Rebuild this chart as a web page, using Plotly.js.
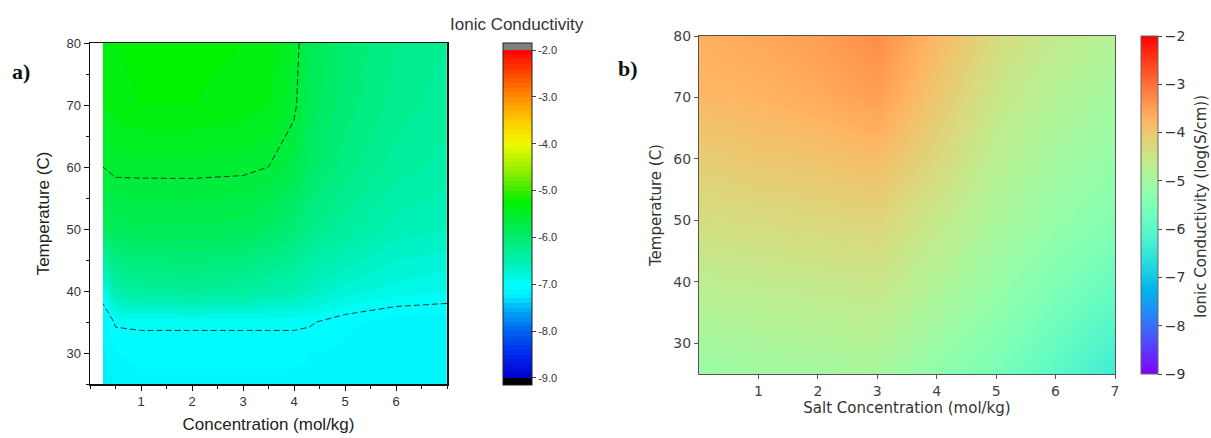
<!DOCTYPE html>
<html><head><meta charset="utf-8">
<script src="https://cdn.plot.ly/plotly-3.0.1.min.js"></script>
<style>html,body{margin:0;padding:0;background:#fff}</style>
</head><body><div id="chart" style="width:1211px;height:438px"></div>
<script>
// ---------- Panel a: measured ionic conductivity (log S/cm) ----------
const concA = [0.25, 0.5, 1, 2, 3, 3.5, 4, 4.3, 5, 6, 7];
const tempA = [25, 30, 35, 40, 50, 60, 70, 80];
const condA = [
  [-7.30, -7.15, -7.12, -7.12, -7.12, -7.12, -7.12, -7.12, -7.15, -7.18, -7.18], // 25
  [-7.22, -7.10, -7.08, -7.08, -7.08, -7.08, -7.08, -7.10, -7.12, -7.15, -7.15], // 30
  [-7.15, -6.98, -6.97, -6.97, -6.97, -6.97, -6.97, -6.98, -7.08, -7.15, -7.15], // 35
  [-6.90, -6.45, -6.35, -6.30, -6.35, -6.45, -6.50, -6.60, -6.75, -6.85, -6.90], // 40
  [-5.90, -5.85, -5.83, -5.82, -5.85, -5.95, -6.05, -6.20, -6.35, -6.55, -6.60], // 50
  [-5.60, -5.55, -5.55, -5.55, -5.56, -5.60, -5.75, -5.95, -6.15, -6.35, -6.45], // 60
  [-5.40, -5.35, -5.30, -5.30, -5.35, -5.40, -5.55, -5.85, -6.05, -6.25, -6.35], // 70
  [-5.35, -5.30, -5.25, -5.25, -5.30, -5.35, -5.50, -5.80, -6.00, -6.20, -6.30]  // 80
];
const lineLevelsA = [-7.0, -5.6];
const xTicksA = [1, 2, 3, 4, 5, 6];
const yTicksA = [30, 40, 50, 60, 70, 80];
const cbTicksA = [-9, -8, -7, -6, -5, -4, -3, -2];
const cbLabelsA = ["-9.0", "-8.0", "-7.0", "-6.0", "-5.0", "-4.0", "-3.0", "-2.0"];

// ---------- Panel b: predicted ionic conductivity (log S/cm) ----------
const concB = [0, 1, 2, 3, 4, 5, 6, 7];
const tempB = [25, 40, 50, 60, 70, 80];
const condB = [
  [-5.15, -5.05, -5.00, -4.95, -5.30, -5.60, -6.00, -6.40], // 25
  [-4.65, -4.60, -4.55, -4.50, -4.80, -5.15, -5.50, -5.80], // 40
  [-4.35, -4.30, -4.25, -4.20, -4.55, -4.90, -5.20, -5.45], // 50
  [-4.10, -4.00, -3.95, -3.85, -4.25, -4.70, -5.00, -5.20], // 60
  [-3.80, -3.75, -3.65, -3.50, -4.00, -4.50, -4.80, -5.00], // 70
  [-3.70, -3.60, -3.50, -3.30, -3.80, -4.30, -4.60, -4.80]  // 80
];
const cbTicksB = [-9, -8, -7, -6, -5, -4, -3, -2];

// ---------- colour scales (style) ----------
const W = 1211, H = 438;
const anchorsA = [
  [-9.0, [0, 0, 210]], [-8.5, [0, 40, 235]], [-8.0, [0, 100, 240]], [-7.5, [0, 180, 245]],
  [-7.25, [0, 238, 252]], [-7.0, [0, 255, 255]], [-6.75, [0, 245, 215]], [-6.5, [0, 240, 175]],
  [-6.0, [0, 236, 110]], [-5.5, [0, 238, 40]], [-5.25, [0, 242, 0]], [-5.0, [60, 235, 0]],
  [-4.5, [160, 240, 0]], [-4.0, [240, 250, 0]], [-3.5, [255, 200, 0]],
  [-3.0, [255, 140, 0]], [-2.5, [255, 70, 0]], [-2.0, [255, 0, 0]]
];
function colA(v) {
  for (let i = 0; i < anchorsA.length - 1; i++) {
    const [v0, c0] = anchorsA[i], [v1, c1] = anchorsA[i + 1];
    if (v >= v0 && v <= v1) {
      const t = (v - v0) / (v1 - v0);
      return 'rgb(' + c0.map((c, k) => Math.round(c + (c1[k] - c) * t)).join(',') + ')';
    }
  }
  return 'rgb(0,0,0)';
}
const zminA = -9.15, zmaxA = -1.85;
const pA = v => (v - zminA) / (zmaxA - zminA);
const scaleA = [[0, 'rgb(0,0,0)'], [pA(-9), 'rgb(0,0,0)']];
const step = 0.1;
for (let k = 0; k < 70; k++) {
  const v = -9 + k * step;
  const c = colA(v + step / 2);
  scaleA.push([pA(v) + 1e-6, c]);
  scaleA.push([pA(v + step), c]);
}
scaleA.push([pA(-2) + 1e-6, 'rgb(128,128,128)']);
scaleA.push([1, 'rgb(128,128,128)']);

const scaleB = [];
for (let i = 0; i <= 40; i++) {
  const x = i / 40;
  const cl = u => Math.max(0, Math.min(1, u));
  const r = cl(Math.abs(2 * x - 0.5)), g = cl(Math.sin(Math.PI * x)), b = cl(Math.cos(Math.PI * x / 2));
  scaleB.push([x, `rgb(${Math.round(r * 255)},${Math.round(g * 255)},${Math.round(b * 255)})`]);
}

const fontA = 'Liberation Sans, Arial, sans-serif';
const fontB = 'DejaVu Sans, sans-serif';

const traces = [
  {
    type: 'contour', x: concA, y: tempA, z: condA,
    zmin: zminA, zmax: zmaxA, zauto: false, colorscale: scaleA,
    contours: { coloring: 'heatmap', showlines: false },
    line: { width: 0 },
    hoverinfo: 'skip',
    colorbar: {
      x: 503 / W, xanchor: 'left', xpad: 0, ypad: 0,
      y: (H - 214) / H, yanchor: 'middle',
      len: 342, lenmode: 'pixels', thickness: 29, thicknessmode: 'pixels',
      outlinewidth: 1, outlinecolor: '#222',
      tickmode: 'array', tickvals: cbTicksA, ticktext: cbLabelsA,
      ticks: 'outside', ticklen: 4, tickcolor: '#444',
      tickfont: { family: fontA, size: 11, color: '#333' }
    },
    xaxis: 'x', yaxis: 'y'
  },
  {
    type: 'contour', x: concA, y: tempA, z: condA,
    autocontour: false,
    contours: { coloring: 'none', start: lineLevelsA[0], end: lineLevelsA[1], size: lineLevelsA[1] - lineLevelsA[0] },
    line: { color: '#222', width: 0.9, dash: '6px,3px', smoothing: 0 },
    showscale: false, hoverinfo: 'skip',
    xaxis: 'x', yaxis: 'y'
  },
  {
    type: 'heatmap', x: concB, y: tempB, z: condB,
    zsmooth: 'best', zmin: -9, zmax: -2, colorscale: scaleB,
    hoverinfo: 'skip',
    colorbar: {
      x: 1141 / W, xanchor: 'left', xpad: 0, ypad: 0,
      y: (H - 205) / H, yanchor: 'middle',
      len: 338, lenmode: 'pixels', thickness: 17, thicknessmode: 'pixels',
      outlinewidth: 1, outlinecolor: '#666',
      tickmode: 'array', tickvals: cbTicksB,
      ticks: 'outside', ticklen: 4, tickcolor: '#444',
      tickfont: { family: fontB, size: 14, color: '#333' }
    },
    xaxis: 'x2', yaxis: 'y2'
  }
];

const layout = {
  width: W, height: H, margin: { l: 0, r: 0, t: 0, b: 0 },
  paper_bgcolor: '#fff', plot_bgcolor: '#fff', showlegend: false,
  xaxis: {
    domain: [90 / W, 447 / W], range: [0, 7], anchor: 'y',
    showgrid: false, zeroline: false, showline: true, linecolor: '#111', linewidth: 1.5, mirror: true,
    tickmode: 'array', tickvals: xTicksA, ticks: 'outside', ticklen: 5, tickcolor: '#111',
    minor: { tickmode: 'linear', tick0: 0, dtick: 0.5, ticks: 'outside', ticklen: 3, tickcolor: '#111' },
    tickfont: { family: fontA, size: 13, color: '#333' },
    title: { text: 'Concentration (mol/kg)', font: { family: fontA, size: 17, color: '#222' }, standoff: 10 },
    automargin: false
  },
  yaxis: {
    domain: [54 / H, 395 / H], range: [25, 80], anchor: 'x',
    showgrid: false, zeroline: false, showline: true, linecolor: '#111', linewidth: 1.5, mirror: true,
    tickmode: 'array', tickvals: yTicksA, ticks: 'outside', ticklen: 5, tickcolor: '#111',
    minor: { tickmode: 'linear', tick0: 25, dtick: 5, ticks: 'outside', ticklen: 3, tickcolor: '#111' },
    tickfont: { family: fontA, size: 13, color: '#333' },
    title: { text: 'Temperature (C)', font: { family: fontA, size: 17, color: '#222' }, standoff: 12 },
    automargin: false
  },
  xaxis2: {
    domain: [699 / W, 1115 / W], range: [0, 7], anchor: 'y2',
    showgrid: false, zeroline: false, showline: true, linecolor: '#555', linewidth: 1, mirror: true,
    tickmode: 'array', tickvals: [1, 2, 3, 4, 5, 6, 7], ticks: 'outside', ticklen: 4, tickcolor: '#555',
    tickfont: { family: fontB, size: 14, color: '#444' },
    title: { text: 'Salt Concentration (mol/kg)', font: { family: fontB, size: 15, color: '#333' }, standoff: 4 },
    automargin: false
  },
  yaxis2: {
    domain: [64 / H, 402 / H], range: [25, 80], anchor: 'x2',
    showgrid: false, zeroline: false, showline: true, linecolor: '#555', linewidth: 1, mirror: true,
    tickmode: 'array', tickvals: [30, 40, 50, 60, 70, 80], ticks: 'outside', ticklen: 4, tickcolor: '#555',
    tickfont: { family: fontB, size: 14, color: '#444' },
    title: { text: 'Temperature (C)', font: { family: fontB, size: 15, color: '#333' }, standoff: 8 },
    automargin: false
  },
  annotations: [
    { text: 'Ionic Conductivity', xref: 'paper', yref: 'paper', x: 517 / W, y: (H - 25) / H,
      xanchor: 'center', yanchor: 'middle', showarrow: false, font: { family: fontA, size: 17, color: '#333' } },
    { text: 'Ionic Conductivity (log(S/cm))', xref: 'paper', yref: 'paper', x: 1201 / W, y: (H - 207) / H,
      xanchor: 'center', yanchor: 'middle', textangle: -90, showarrow: false, font: { family: fontB, size: 15, color: '#333' } },
    { text: '<b>a)</b>', xref: 'paper', yref: 'paper', x: 21 / W, y: (H - 71) / H,
      xanchor: 'center', yanchor: 'middle', showarrow: false, font: { family: 'Liberation Serif, Times New Roman, serif', size: 22, color: '#111' } },
    { text: '<b>b)</b>', xref: 'paper', yref: 'paper', x: 628 / W, y: (H - 68) / H,
      xanchor: 'center', yanchor: 'middle', showarrow: false, font: { family: 'Liberation Serif, Times New Roman, serif', size: 22, color: '#111' } }
  ]
};

Plotly.newPlot('chart', traces, layout, { staticPlot: true, displayModeBar: false });
</script>
</body></html>
